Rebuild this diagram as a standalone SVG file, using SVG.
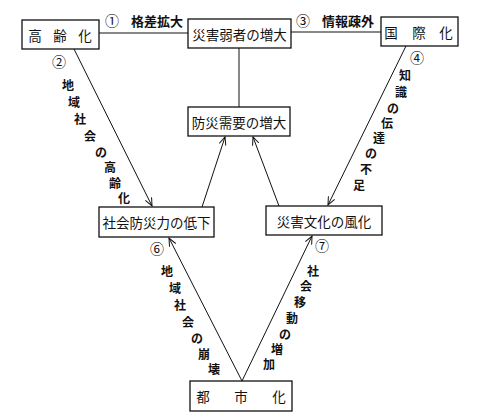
<svg xmlns="http://www.w3.org/2000/svg" width="500" height="419" viewBox="0 0 500 419">
<style>
.box{fill:#fff;stroke:#111;stroke-width:1.3}
.t{font-family:"Noto Sans CJK JP","Noto Sans CJK SC",sans-serif;font-size:13.5px;fill:#111;text-anchor:middle;dominant-baseline:central}
.l{font-family:"Noto Sans CJK JP","Noto Sans CJK SC",sans-serif;font-size:12px;fill:#111;text-anchor:middle;dominant-baseline:central;font-weight:bold}
.h{font-size:13px}
.n{font-family:"Noto Sans CJK JP","Noto Sans CJK SC",sans-serif;font-size:14px;fill:#111;text-anchor:middle;dominant-baseline:central}
.c{stroke:#111;stroke-width:1;fill:none}
</style>
<defs>
<marker id="ah" markerWidth="10" markerHeight="8" refX="8" refY="4" orient="auto" markerUnits="userSpaceOnUse">
<path d="M0,0.5 L8,4 L0,7.5" fill="none" stroke="#111" stroke-width="1"/>
</marker>
</defs>
<g id="connectors">
<line class="c" x1="99" y1="33" x2="188" y2="33"/>
<line class="c" x1="291" y1="32" x2="381" y2="32"/>
<line class="c" x1="239" y1="48" x2="239" y2="107"/>
<line class="c" x1="74" y1="49" x2="152" y2="206" marker-end="url(#ah)"/>
<line class="c" x1="406" y1="46" x2="328" y2="205" marker-end="url(#ah)"/>
<line class="c" x1="202" y1="207" x2="225" y2="137" marker-end="url(#ah)"/>
<line class="c" x1="279" y1="206" x2="253" y2="137" marker-end="url(#ah)"/>
<line class="c" x1="242" y1="381" x2="169" y2="238" marker-end="url(#ah)"/>
<line class="c" x1="242" y1="381" x2="312" y2="236" marker-end="url(#ah)"/>
</g>
<g id="n-koreika">
<rect class="box" x="22" y="20" width="77" height="29"/>
<text class="t" x="35" y="34.5">高</text><text class="t" x="60" y="34.5">齢</text><text class="t" x="85" y="34.5">化</text>
</g>
<g id="n-saigaijakusha">
<rect class="box" x="188" y="19" width="103" height="29"/>
<text class="t" x="239.5" y="33.5">災害弱者の増大</text>
</g>
<g id="n-kokusaika">
<rect class="box" x="381" y="17" width="77" height="29"/>
<text class="t" x="391" y="32">国</text><text class="t" x="419" y="32">際</text><text class="t" x="446" y="32">化</text>
</g>
<g id="n-bousaijuyou">
<rect class="box" x="188" y="107" width="102" height="29"/>
<text class="t" x="239" y="121.5">防災需要の増大</text>
</g>
<g id="n-shakaibousai">
<rect class="box" x="99" y="207" width="115" height="30"/>
<text class="t" x="156.5" y="222">社会防災力の低下</text>
</g>
<g id="n-saigaibunka">
<rect class="box" x="266" y="206" width="116" height="29"/>
<text class="t" x="324" y="220.5">災害文化の風化</text>
</g>
<g id="n-toshika">
<rect class="box" x="190" y="381" width="102" height="30"/>
<text class="t" x="203" y="396">都</text><text class="t" x="241" y="396">市</text><text class="t" x="279" y="396">化</text>
</g>
<g id="labels">
<text class="n" x="112" y="20">①</text>
<text class="l h" x="157" y="20">格差拡大</text>
<text class="n" x="303" y="20">③</text>
<text class="l h" x="348" y="20">情報疎外</text>
<text class="n" x="59" y="61">②</text>
<text class="l" x="68" y="84">地</text>
<text class="l" x="74" y="101">域</text>
<text class="l" x="80" y="118">社</text>
<text class="l" x="90" y="135">会</text>
<text class="l" x="101" y="151">の</text>
<text class="l" x="110" y="166">高</text>
<text class="l" x="115" y="182">齢</text>
<text class="l" x="124" y="197">化</text>
<text class="n" x="417" y="57">④</text>
<text class="l" x="405" y="74">知</text>
<text class="l" x="401" y="91">識</text>
<text class="l" x="393" y="107">の</text>
<text class="l" x="387" y="122">伝</text>
<text class="l" x="379" y="137">達</text>
<text class="l" x="371" y="152">の</text>
<text class="l" x="366" y="168">不</text>
<text class="l" x="359" y="184">足</text>
<text class="n" x="157" y="248">⑥</text>
<text class="l" x="167" y="270">地</text>
<text class="l" x="175" y="287">域</text>
<text class="l" x="180" y="304">社</text>
<text class="l" x="188" y="321">会</text>
<text class="l" x="197" y="337">の</text>
<text class="l" x="204" y="353">崩</text>
<text class="l" x="214" y="368">壊</text>
<text class="n" x="322" y="245">⑦</text>
<text class="l" x="313" y="270">社</text>
<text class="l" x="306" y="285">会</text>
<text class="l" x="300" y="301">移</text>
<text class="l" x="292" y="317">動</text>
<text class="l" x="285" y="333">の</text>
<text class="l" x="277" y="348">増</text>
<text class="l" x="269" y="363">加</text>
</g>
</svg>
